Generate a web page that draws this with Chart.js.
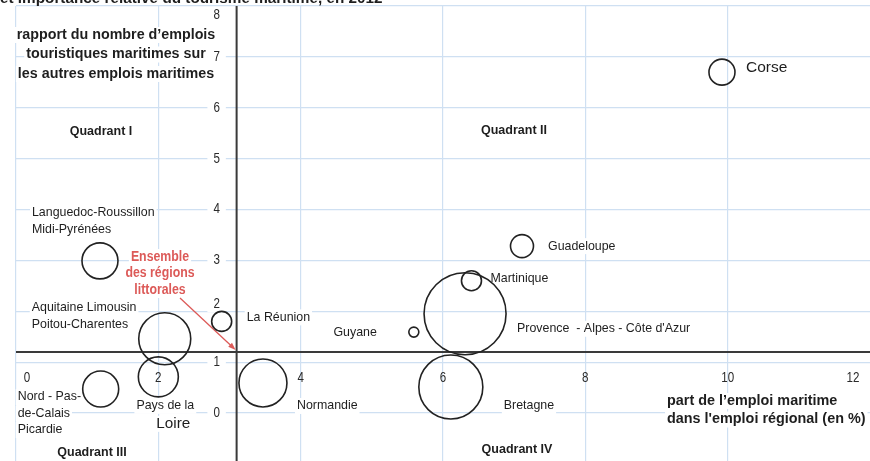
<!DOCTYPE html>
<html>
<head>
<meta charset="utf-8">
<script src="https://cdn.jsdelivr.net/npm/chart.js@4.4.1/dist/chart.umd.min.js"></script>
<style>
  body { margin: 0; background: #fff; }
  #wrap { position: relative; width: 870px; height: 461px; }
</style>
</head>
<body>
<div id="wrap"><canvas id="quadrants"></canvas></div>
<script>
// Régions littorales : part de l'emploi maritime (x) et rapport tourisme / autres emplois maritimes (y)
const regions = [
  'Corse', 'Guadeloupe', 'Martinique', "Provence - Alpes - Côte d'Azur", 'Guyane',
  'Bretagne', 'Normandie', 'Pays de la Loire', 'Nord - Pas-de-Calais Picardie',
  'Aquitaine Limousin Poitou-Charentes', 'Languedoc-Roussillon Midi-Pyrénées', 'La Réunion'
];
const partEmploiMaritime = [9.92, 7.11, 6.40, 6.31, 5.59, 6.11, 3.47, 2.00, 1.19, 2.09, 1.18, 2.89];
const rapportTourisme    = [6.70, 3.28, 2.60, 1.95, 1.59, 0.51, 0.59, 0.71, 0.47, 1.46, 2.99, 1.80];
const tailleBulle        = [13, 11.5, 10, 41, 5, 32, 24, 20, 18, 26, 18, 10];

// Ensemble des régions littorales (croisement des axes)
const moyenneX = 3.1;
const moyenneY = 1.2;

const xTickValues = [0, 2, 4, 6, 8, 10, 12];
const yTickValues = [0, 1, 2, 3, 4, 5, 6, 7, 8];

const SANS = '"Liberation Sans", Arial, sans-serif';
const GRID = '#cfe0f2';
const AXIS = '#3a3a3a';
const RED = '#dc5a58';
const INK = '#1e1e1e';

// texte des étiquettes : lignes + décalage en px depuis le centre de la bulle
const regionLabels = [
  { lines: ['Corse'], dx: 24, dy: -4, align: 'left', font: '15.5px ' + SANS },
  { lines: ['Guadeloupe'], dx: 26, dy: 0, align: 'left' },
  { lines: ['Martinique'], dx: 19, dy: -2, align: 'left' },
  { lines: ["Provence  - Alpes - Côte d'Azur"], dx: 52, dy: 15, align: 'left' },
  { lines: ['Guyane'], dx: -37, dy: 0, align: 'right' },
  { lines: ['Bretagne'], dx: 53, dy: 19, align: 'left' },
  { lines: ['Normandie'], dx: 34, dy: 23, align: 'left' },
  { lines: ['Pays de la'], dx: 7, dy: 29, align: 'center' },
  { lines: ['Nord - Pas-', 'de-Calais', 'Picardie'], dx: -83, dy: 8, align: 'left', lh: 16.5 },
  { lines: ['Aquitaine Limousin', 'Poitou-Charentes'], dx: -133, dy: -31, align: 'left', lh: 17 },
  { lines: ['Languedoc-Roussillon', 'Midi-Pyrénées'], dx: -68, dy: -48, align: 'left', lh: 17 },
  { lines: ['La Réunion'], dx: 25, dy: -4, align: 'left' }
];

function textBox(ctx, text, x, y, align, font, color, bg, sx = 1, pad = 2) {
  ctx.font = font;
  ctx.textAlign = 'left';
  ctx.textBaseline = 'middle';
  const w = ctx.measureText(text).width * sx;
  const left = align === 'left' ? x : align === 'right' ? x - w : x - w / 2;
  if (bg) {
    ctx.fillStyle = '#fff';
    ctx.fillRect(left - pad, y - 8, w + 2 * pad, 16);
  }
  ctx.fillStyle = color;
  ctx.save();
  ctx.translate(left, y);
  ctx.scale(sx, 1);
  ctx.fillText(text, 0, 0);
  ctx.restore();
}

const decorPlugin = {
  id: 'decor',
  beforeDatasetsDraw(chart) {
    const { ctx, chartArea, scales: { x, y } } = chart;
    const ox = x.getPixelForValue(moyenneX);
    const oy = y.getPixelForValue(moyenneY);
    ctx.save();

    // titre coupé en haut
    ctx.font = 'bold 15.3px ' + SANS;
    ctx.textAlign = 'left';
    ctx.textBaseline = 'alphabetic';
    ctx.fillStyle = INK;
    ctx.fillText('et importance relative du tourisme maritime, en 2012', 0, 3);

    // graduations de l'axe vertical
    const tickFont = '14.5px ' + SANS;
    yTickValues.forEach(v => {
      let py = y.getPixelForValue(v);
      if (v === 8) py += 9;
      if (v === 2) py -= 7;
      textBox(ctx, String(v), ox - 20, py, 'center', tickFont, '#2a2a2a', true, 0.8, 6);
    });
    // graduations de l'axe horizontal
    xTickValues.forEach(v => {
      let px = x.getPixelForValue(v);
      if (v === 0) px += 11;
      if (v === 12) px -= 17;
      textBox(ctx, String(v), px, oy + 26, 'center', tickFont, '#2a2a2a', false, 0.8);
    });

    // titres des axes
    const yTitle = ['rapport du nombre d\u2019emplois', 'touristiques maritimes sur', 'les autres emplois maritimes'];
    yTitle.forEach((t, i) => textBox(ctx, t, 116, 35 + i * 19.5, 'center', 'bold 14.3px ' + SANS, INK, true));
    const xTitle = ['part de l\u2019emploi maritime', "dans l'emploi régional (en %)"];
    xTitle.forEach((t, i) => textBox(ctx, t, 667, 401 + i * 18.5, 'left', 'bold 14.4px ' + SANS, INK, true));

    // quadrants
    const qFont = 'bold 12.5px ' + SANS;
    textBox(ctx, 'Quadrant I', 101, 132, 'center', qFont, INK, true);
    textBox(ctx, 'Quadrant II', 514, 131, 'center', qFont, INK, true);
    textBox(ctx, 'Quadrant III', 92, 453, 'center', qFont, INK, true);
    textBox(ctx, 'Quadrant IV', 517, 450, 'center', qFont, INK, true);

    // étiquettes des régions
    regionLabels.forEach((lab, i) => {
      const cx = x.getPixelForValue(partEmploiMaritime[i]);
      const cy = y.getPixelForValue(rapportTourisme[i]);
      lab.lines.forEach((t, k) => {
        textBox(ctx, t, cx + lab.dx, cy + lab.dy + k * (lab.lh || 17), lab.align,
          lab.font || ('12.4px ' + SANS), INK, true);
      });
    });
    // "Loire" plus gros, sous "Pays de la"
    const plx = x.getPixelForValue(partEmploiMaritime[7]);
    const ply = y.getPixelForValue(rapportTourisme[7]);
    textBox(ctx, 'Loire', plx + 15, ply + 47, 'center', '15.3px ' + SANS, INK, true);

    // Ensemble des régions littorales
    const ens = ['Ensemble', 'des régions', 'littorales'];
    ens.forEach((t, i) => textBox(ctx, t, 160, 257 + i * 16.5, 'center', 'bold 14px ' + SANS, RED, true, 0.88));

    // axes passant par la moyenne
    ctx.strokeStyle = AXIS;
    ctx.lineWidth = 2;
    ctx.beginPath();
    ctx.moveTo(chartArea.left, oy);
    ctx.lineTo(chartArea.right, oy);
    ctx.moveTo(ox, chartArea.top);
    ctx.lineTo(ox, chartArea.bottom);
    ctx.stroke();

    // flèche rouge
    const sx = 180, sy = 298, ex = ox - 1, ey = oy - 2;
    const ang = Math.atan2(ey - sy, ex - sx);
    ctx.strokeStyle = RED;
    ctx.fillStyle = RED;
    ctx.lineWidth = 1.3;
    ctx.beginPath();
    ctx.moveTo(sx, sy);
    ctx.lineTo(ex - 5 * Math.cos(ang), ey - 5 * Math.sin(ang));
    ctx.stroke();
    ctx.beginPath();
    ctx.moveTo(ex, ey);
    ctx.lineTo(ex - 8 * Math.cos(ang - 0.35), ey - 8 * Math.sin(ang - 0.35));
    ctx.lineTo(ex - 8 * Math.cos(ang + 0.35), ey - 8 * Math.sin(ang + 0.35));
    ctx.closePath();
    ctx.fill();

    ctx.restore();
  }
};

new Chart(document.getElementById('quadrants'), {
  type: 'bubble',
  data: {
    datasets: [{
      label: 'Régions littorales',
      data: regions.map((name, i) => ({ x: partEmploiMaritime[i], y: rapportTourisme[i], r: tailleBulle[i] })),
      backgroundColor: 'rgba(0,0,0,0)',
      borderColor: '#222',
      borderWidth: 1.6,
      hoverRadius: 0,
      clip: false
    }]
  },
  options: {
    responsive: true,
    maintainAspectRatio: false,
    animation: false,
    events: [],
    layout: { autoPadding: false, padding: { left: 16, top: 6, right: 0, bottom: 0 } },
    plugins: { legend: { display: false }, tooltip: { enabled: false } },
    scales: {
      x: {
        type: 'linear',
        min: 0, max: 12,
        ticks: { display: false, stepSize: 2 },
        border: { display: false },
        grid: {
          color: c => (c.tick.value < 12 ? GRID : 'rgba(0,0,0,0)'),
          lineWidth: 1.2,
          drawTicks: false
        }
      },
      y: {
        type: 'linear',
        min: -0.944, max: 8,
        ticks: { display: false, stepSize: 1 },
        border: { display: false },
        grid: {
          color: c => (Number.isInteger(c.tick.value) ? GRID : 'rgba(0,0,0,0)'),
          lineWidth: 1.2,
          drawTicks: false
        }
      }
    }
  },
  plugins: [decorPlugin]
});
</script>
</body>
</html>
